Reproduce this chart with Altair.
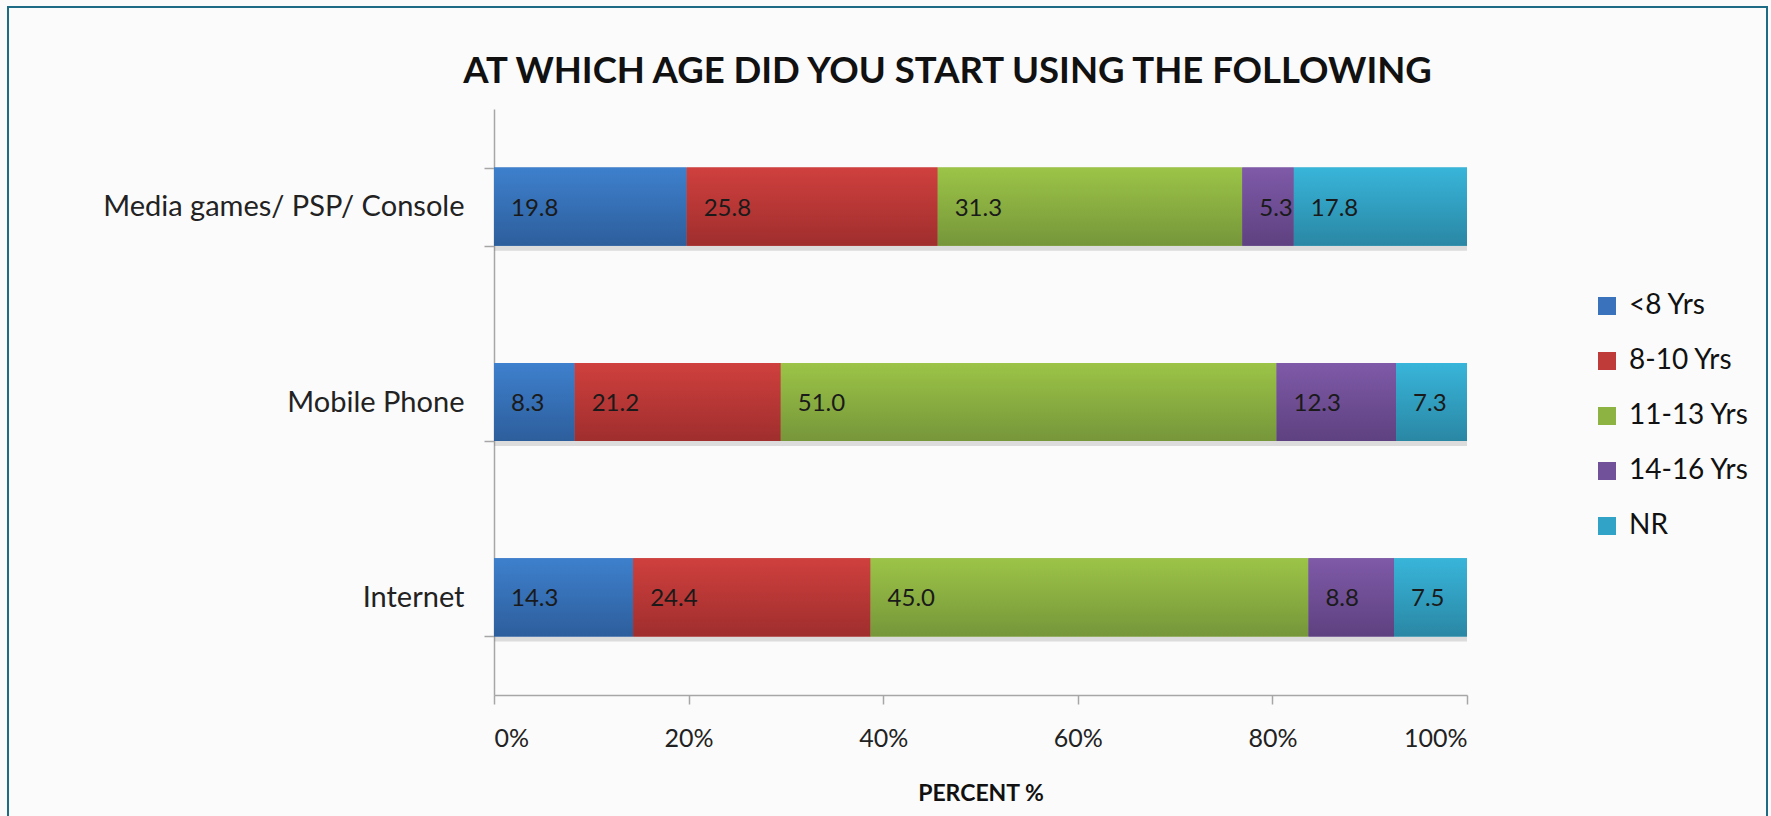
import altair as alt
import pandas as pd

categories = ["Media games/ PSP/ Console", "Mobile Phone", "Internet"]
series = ["<8 Yrs", "8-10 Yrs", "11-13 Yrs", "14-16 Yrs", "NR"]
values = {
    "Media games/ PSP/ Console": [19.8, 25.8, 31.3, 5.3, 17.8],
    "Mobile Phone": [8.3, 21.2, 51.0, 12.3, 7.3],
    "Internet": [14.3, 24.4, 45.0, 8.8, 7.5],
}
flat_colors = ["#3a73bb", "#bf3b39", "#8db343", "#70519a", "#30a3c6"]
grad_top = ["#3e80cd", "#cf403e", "#9cc447", "#7f5aa8", "#38b5da"]
grad_bottom = ["#2d5e9c", "#9f2e2d", "#76963a", "#5e4180", "#2a87a4"]

rows = []
for c in categories:
    for i, s in enumerate(series):
        rows.append({"cat": c, "series": s, "order": i, "value": values[c][i]})
df = pd.DataFrame(rows)

FONT = "Lato"
AXIS_GRAY = "#a6a6a6"

base = alt.Chart(df).transform_stack(
    stack="value", groupby=["cat"], as_=["x0", "x1"],
    sort=[alt.SortField("order")], offset="normalize"
)

xenc = alt.X(
    "x0:Q",
    scale=alt.Scale(domain=[0, 1], nice=False),
    axis=alt.Axis(
        values=[0, 0.2, 0.4, 0.6, 0.8, 1.0], format=".0%", title="PERCENT %",
        labelFontSize=25, labelFont=FONT, labelColor="#222222", labelPadding=22,
        titleFont=FONT, titleFontSize=23, titleFontWeight="bold", titleColor="#111111",
        titlePadding=31, tickSize=9, tickColor=AXIS_GRAY, domainColor=AXIS_GRAY,
        grid=False, domainWidth=1.5, tickWidth=1.5,
    ),
)
yenc = alt.Y(
    "cat:N", sort=categories,
    scale=alt.Scale(paddingInner=0.6, paddingOuter=0.3),
    axis=alt.Axis(
        title=None, tickBand="extent", tickSize=10, tickColor=AXIS_GRAY,
        domainColor=AXIS_GRAY, labelFontSize=29, labelFont=FONT,
        labelColor="#222222", labelPadding=20, labelLimit=600,
        domainWidth=1.5, tickWidth=1.5,
    ),
)

shadow = base.mark_bar(yOffset=5, color="#7f7f7f", opacity=0.25).encode(
    x=xenc, x2="x1:Q", y=yenc
)

legend_layer = base.mark_bar().encode(
    x=xenc, x2="x1:Q", y=yenc,
    color=alt.Color(
        "series:N",
        scale=alt.Scale(domain=series, range=flat_colors),
        legend=alt.Legend(
            title=None, orient="none", legendX=1099, legendY=183,
            symbolType="square", symbolSize=324, symbolStrokeWidth=0,
            labelFont=FONT, labelFontSize=28, labelColor="#111111",
            labelOffset=8, rowPadding=27,
        ),
    ),
)

grad_layers = []
for i, s in enumerate(series):
    grad = {
        "gradient": "linear", "x1": 0, "y1": 0, "x2": 0, "y2": 1,
        "stops": [
            {"offset": 0, "color": grad_top[i]},
            {"offset": 1, "color": grad_bottom[i]},
        ],
    }
    grad_layers.append(
        base.transform_filter(alt.datum.series == s)
        .mark_bar(fill=grad)
        .encode(x=xenc, x2="x1:Q", y=yenc)
    )

labels = base.mark_text(
    align="left", baseline="middle", dx=17, dy=2, fontSize=24, font=FONT,
    color="#1a1a1a",
).encode(x=xenc, y=yenc, text=alt.Text("value:Q", format=".1f"))

frame = alt.Chart(df).mark_rect(
    fill=None, stroke="#1d6b85", strokeWidth=2
).encode(
    x=alt.value(-486), x2=alt.value(1273), y=alt.value(-102), y2=alt.value(760)
)

chart = alt.layer(
    frame, shadow, legend_layer, *grad_layers, labels
).properties(
    width=973, height=586,
    title=alt.TitleParams(
        "AT WHICH AGE DID YOU START USING THE FOLLOWING",
        font=FONT, fontSize=36.5, fontWeight="bold", color="#111111",
        anchor="middle", dx=-33, offset=24, dy=108,
    ),
    autosize=alt.AutoSizeParams(type="none"),
    padding={"left": 494, "top": 109, "right": 304, "bottom": 121},
    background="#fbfbfb",
).configure_view(stroke=None)

chart.save("out.html", embed_options={"renderer": "svg", "actions": False})
